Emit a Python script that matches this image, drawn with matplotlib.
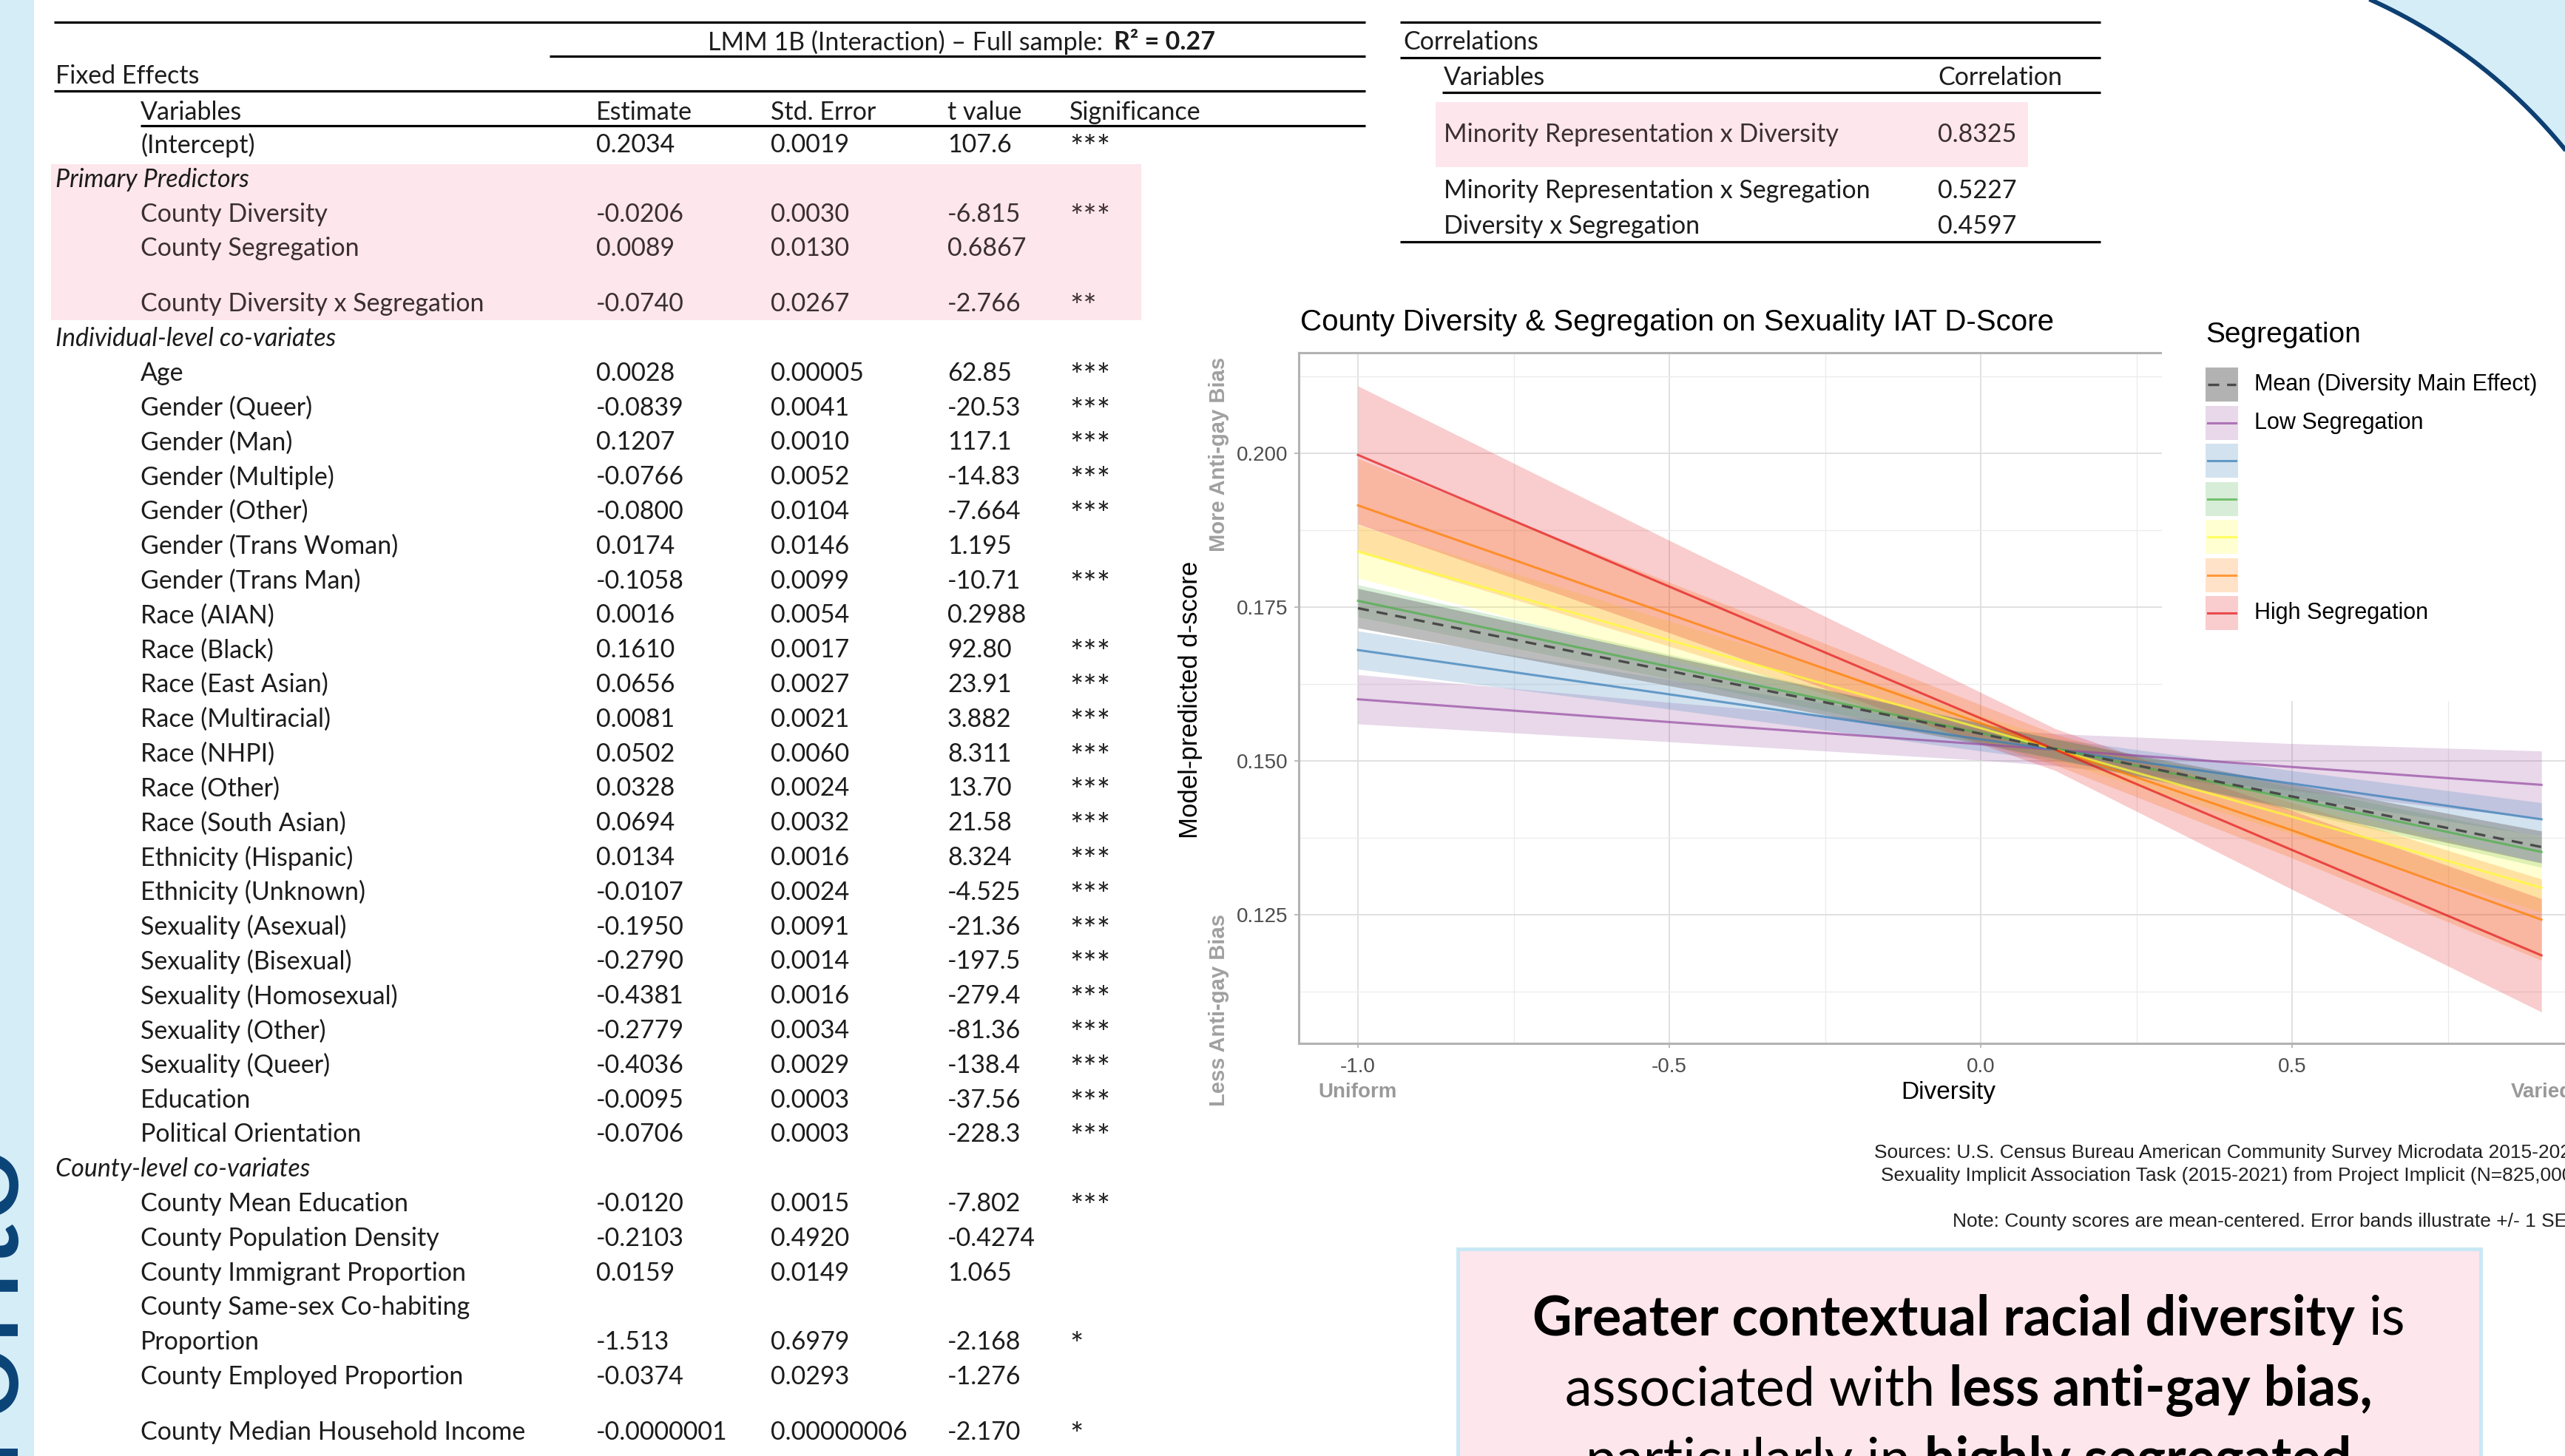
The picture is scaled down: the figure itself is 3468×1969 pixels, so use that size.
import numpy as np
import matplotlib
matplotlib.use("Agg")
import matplotlib.pyplot as plt
from matplotlib.patches import Rectangle, Polygon

W, H = 3468, 1969
plt.rcParams["font.family"] = ["Liberation Sans", "DejaVu Sans"]

# ---- fixed effects table (LMM 1B)
var_names = [
    "(Intercept)",
    "County Diversity", "County Segregation", "County Diversity x Segregation",
    "Age", "Gender (Queer)", "Gender (Man)", "Gender (Multiple)", "Gender (Other)",
    "Gender (Trans Woman)", "Gender (Trans Man)", "Race (AIAN)", "Race (Black)",
    "Race (East Asian)", "Race (Multiracial)", "Race (NHPI)", "Race (Other)",
    "Race (South Asian)", "Ethnicity (Hispanic)", "Ethnicity (Unknown)",
    "Sexuality (Asexual)", "Sexuality (Bisexual)", "Sexuality (Homosexual)",
    "Sexuality (Other)", "Sexuality (Queer)", "Education", "Political Orientation",
    "County Mean Education", "County Population Density", "County Immigrant Proportion",
    "County Same-sex Co-habiting\nProportion", "County Employed Proportion",
    "County Median Household Income",
]
estimates = ["0.2034", "-0.0206", "0.0089", "-0.0740", "0.0028", "-0.0839", "0.1207",
             "-0.0766", "-0.0800", "0.0174", "-0.1058", "0.0016", "0.1610", "0.0656",
             "0.0081", "0.0502", "0.0328", "0.0694", "0.0134", "-0.0107", "-0.1950",
             "-0.2790", "-0.4381", "-0.2779", "-0.4036", "-0.0095", "-0.0706", "-0.0120",
             "-0.2103", "0.0159", "-1.513", "-0.0374", "-0.0000001"]
std_errors = ["0.0019", "0.0030", "0.0130", "0.0267", "0.00005", "0.0041", "0.0010",
              "0.0052", "0.0104", "0.0146", "0.0099", "0.0054", "0.0017", "0.0027",
              "0.0021", "0.0060", "0.0024", "0.0032", "0.0016", "0.0024", "0.0091",
              "0.0014", "0.0016", "0.0034", "0.0029", "0.0003", "0.0003", "0.0015",
              "0.4920", "0.0149", "0.6979", "0.0293", "0.00000006"]
t_values = ["107.6", "-6.815", "0.6867", "-2.766", "62.85", "-20.53", "117.1", "-14.83",
            "-7.664", "1.195", "-10.71", "0.2988", "92.80", "23.91", "3.882", "8.311",
            "13.70", "21.58", "8.324", "-4.525", "-21.36", "-197.5", "-279.4", "-81.36",
            "-138.4", "-37.56", "-228.3", "-7.802", "-0.4274", "1.065", "-2.168",
            "-1.276", "-2.170"]
signif = ["***", "***", "", "**", "***", "***", "***", "***", "***", "", "***", "",
          "***", "***", "***", "***", "***", "***", "***", "***", "***", "***", "***",
          "***", "***", "***", "***", "***", "", "", "*", "", "*"]
sections = ["Primary Predictors", "Individual-level co-variates", "County-level co-variates"]

# ---- correlations table
corr_pairs = ["Minority Representation x Diversity",
              "Minority Representation x Segregation",
              "Diversity x Segregation"]
corr_values = ["0.8325", "0.5227", "0.4597"]

# ---- predicted d-score by diversity, per segregation level (fit +/- 1 SE)
x_grid = [-1.0, -0.5, 0.0, 0.12, 0.5, 0.9]
fit_mean = [0.1748, 0.1646, 0.1544, 0.1519, 0.1442, 0.1360]
se_mean = [0.0032, 0.0024, 0.0017, 0.0016, 0.0020, 0.0026]
fit_seg1 = [0.1600, 0.1563, 0.1527, 0.1518, 0.1490, 0.1461]
se_seg1 = [0.0040, 0.0032, 0.0026, 0.0026, 0.0038, 0.0055]
fit_seg2 = [0.1680, 0.1608, 0.1535, 0.1518, 0.1463, 0.1405]
se_seg2 = [0.0031, 0.0024, 0.0019, 0.0018, 0.0021, 0.0027]
fit_seg3 = [0.1760, 0.1653, 0.1545, 0.1520, 0.1438, 0.1352]
se_seg3 = [0.0026, 0.0020, 0.0016, 0.0015, 0.0019, 0.0025]
fit_seg4 = [0.1840, 0.1696, 0.1553, 0.1518, 0.1409, 0.1294]
se_seg4 = [0.0043, 0.0031, 0.0020, 0.0018, 0.0028, 0.0040]
fit_seg5 = [0.1915, 0.1738, 0.1561, 0.1518, 0.1387, 0.1242]
se_seg5 = [0.0076, 0.0052, 0.0030, 0.0025, 0.0045, 0.0066]
fit_seg6 = [0.1997, 0.1783, 0.1569, 0.1518, 0.1355, 0.1184]
se_seg6 = [0.0112, 0.0075, 0.0042, 0.0034, 0.0064, 0.0092]
seg_colors = ["#984EA3", "#377EB8", "#4DAF4A", "#FFFF33", "#FF7F00", "#E41A1C"]
legend_labels = ["Mean (Diversity Main Effect)", "Low Segregation", "", "", "", "",
                 "High Segregation"]

fig = plt.figure(figsize=(W / 100, H / 100), dpi=100, facecolor="white")

# full-figure layer in pixel coordinates (y down)
bg = fig.add_axes([0, 0, 1, 1])
bg.set_xlim(0, W)
bg.set_ylim(H, 0)
bg.set_axis_off()
bg.set_zorder(0)

ink = "#1c1c1c"
TF = "Lato"

# left strip + corner decoration
bg.add_patch(Rectangle((0, 0), 46, H, color="#d5edf7", lw=0))
bg.text(22, 1548, "Toronto", rotation=90, rotation_mode="anchor", ha="right",
        va="baseline", fontsize=130, color="#0a4478", family=TF)
t = np.radians(np.linspace(-70, -35, 150))
arc = np.column_stack([2909 + 720 * np.cos(t), 656 + 720 * np.sin(t)])
bg.add_patch(Polygon(np.vstack([arc, [[W + 40, -40]]]), closed=True,
                     color="#d5edf7", lw=0))
bg.plot(arc[:, 0], arc[:, 1], color="#0d3f72", lw=4.3, solid_capstyle="butt")

# ---- fixed effects table
bg.add_patch(Rectangle((69, 222), 1543 - 69, 433 - 222, color="#fde6ec", lw=0))
for y, x0, x1 in [(30, 73, 1846), (76, 743, 1846), (123, 73, 1846), (170, 190, 1846)]:
    bg.plot([x0, x1], [y, y], color="black", lw=2.3, solid_capstyle="butt")
tsz = 24.5
bg.text(1500, 57, "LMM 1B (Interaction) \u2013 Full sample: ", ha="right", va="center",
        fontsize=tsz, family=TF, color=ink)
bg.text(1506, 57, "R\u00b2 = 0.27", ha="left", va="center", fontsize=tsz, family=TF,
        fontweight="bold", color=ink)
bg.text(75, 103, "Fixed Effects", va="center", fontsize=tsz, family=TF, color=ink)
col_x = [190, 806, 1042, 1281, 1446]
for x, s in zip(col_x, ["Variables", "Estimate", "Std. Error", "t value", "Significance"]):
    bg.text(x, 152, s, va="center", fontsize=tsz, family=TF, color=ink)

y0, step = 196, 46.8
slots = [0, 2, 3, 4.6] + [6.6 + i for i in range(23)] + [30.6, 31.6, 32.6, 34.6, 35.6, 37.2]
for sec, s in zip(sections, [1, 5.6, 29.6]):
    bg.text(75, y0 + step * s, sec, va="center", fontsize=tsz, family=TF,
            style="italic", color=ink)
for i, name in enumerate(var_names):
    y = y0 + step * slots[i]
    col = "#3a2f33" if 1 <= i <= 3 else ink
    lines = name.split("\n")
    for k, ln in enumerate(lines):
        bg.text(190, y - step * (len(lines) - 1 - k), ln, va="center", fontsize=tsz,
                family=TF, color=col)
    for x, s in zip(col_x[1:4], [estimates[i], std_errors[i], t_values[i]]):
        bg.text(x, y, s, va="center", fontsize=tsz, family=TF, color=col)
    bg.text(col_x[4], y + 5, signif[i], va="center", fontsize=31, family=TF, color=col)

# ---- correlations table
bg.add_patch(Rectangle((1941, 138), 2742 - 1941, 226 - 138, color="#fde6ec", lw=0))
for y, x0 in [(30, 1893), (78, 1893), (125, 1950), (327, 1893)]:
    bg.plot([x0, 2840], [y, y], color="black", lw=2.3, solid_capstyle="butt")
bg.text(1897, 57, "Correlations", va="center", fontsize=tsz, family=TF, color=ink)
bg.text(1952, 105, "Variables", va="center", fontsize=tsz, family=TF, color=ink)
bg.text(2620, 105, "Correlation", va="center", fontsize=tsz, family=TF, color=ink)
for y, p, v, col in zip([182, 258, 306], corr_pairs, corr_values, ["#3a2f33", ink, ink]):
    bg.text(1952, y, p, va="center", fontsize=tsz, family=TF, color=col)
    bg.text(2620, y, v, va="center", fontsize=tsz, family=TF, color=col)

# ---- chart
ax = fig.add_axes([1756 / W, 1 - 1411 / H, (3512 - 1756) / W, (1411 - 477) / H])
ax.set_zorder(1)
ax.set_xlim(-1.095, 0.99)
ax.set_ylim(0.1041, 0.2163)

fits = [fit_seg1, fit_seg2, fit_seg3, fit_seg4, fit_seg5, fit_seg6]
ses = [se_seg1, se_seg2, se_seg3, se_seg4, se_seg5, se_seg6]
for f, s, c in zip(fits, ses, seg_colors):
    f, s = np.array(f), np.array(s)
    ax.fill_between(x_grid, f - s, f + s, color=c, alpha=0.22, lw=0)
fm, sm = np.array(fit_mean), np.array(se_mean)
ax.fill_between(x_grid, fm - sm, fm + sm, color="#7f7f7f", alpha=0.52, lw=0)
for f, c in zip(fits, seg_colors):
    ax.plot(x_grid, f, color=c, alpha=0.72, lw=2.2)
ax.plot(x_grid, fit_mean, color="#4a4a4a", lw=2.4, dashes=(4.5, 3.2))

ax.set_xticks([-1.0, -0.5, 0.0, 0.5])
ax.set_xticklabels(["-1.0", "-0.5", "0.0", "0.5"])
ax.set_xticks([-0.75, -0.25, 0.25, 0.75], minor=True)
ax.set_yticks([0.125, 0.150, 0.175, 0.200])
ax.set_yticklabels(["0.125", "0.150", "0.175", "0.200"])
ax.set_yticks([0.1125, 0.1375, 0.1625, 0.1875, 0.2125], minor=True)
ax.set_axisbelow(True)
ax.grid(which="major", color="#dedede", lw=1.3)
ax.grid(which="minor", color="#ececec", lw=1.0)
ax.tick_params(which="major", length=4.5, width=1.2, color="#b0b0b0",
               labelcolor="#4d4d4d", labelsize=20)
ax.tick_params(axis="y", pad=6)
ax.tick_params(axis="x", pad=9)
ax.tick_params(which="minor", length=0)
for sp in ax.spines.values():
    sp.set_color("#b3b3b3")
    sp.set_linewidth(2.2)

xt = ax.get_xaxis_transform()
ax.text(x_grid[0], -0.0707, "Uniform", transform=xt, ha="center", va="center",
        fontsize=20, fontweight="bold", color="#999999")
ax.text(x_grid[-1], -0.0707, "Varied", transform=xt, ha="center", va="center",
        fontsize=20, fontweight="bold", color="#999999")
ax.text(0.5, -0.0707, "Diversity", transform=ax.transAxes, ha="center", va="center",
        fontsize=24, color="black")

bg.text(1758, 436, "County Diversity & Segregation on Sexuality IAT D-Score",
        ha="left", va="center", fontsize=29, color="black")
bg.text(1610, 946, "Model-predicted d-score", rotation=90, ha="center", va="center",
        fontsize=25, color="black")
bg.text(1648, 614, "More Anti-gay Bias", rotation=90, ha="center", va="center",
        fontsize=21, fontweight="bold", color="#a0a0a0")
bg.text(1648, 1366, "Less Anti-gay Bias", rotation=90, ha="center", va="center",
        fontsize=21, fontweight="bold", color="#a0a0a0")

bg.text(2534, 1559, "Sources: U.S. Census Bureau American Community Survey Microdata 2015-2021",
        ha="left", va="center", fontsize=19, color="#222222")
bg.text(2543, 1590, "Sexuality Implicit Association Task (2015-2021) from Project Implicit (N=825,000)",
        ha="left", va="center", fontsize=19, color="#222222")
bg.text(2640, 1652, "Note: County scores are mean-centered. Error bands illustrate +/- 1 SE.",
        ha="left", va="center", fontsize=19, color="#222222")

# ---- legend (white box over the panel)
leg = fig.add_axes([2923 / W, 1 - 948 / H, (W - 2923) / W, (948 - 420) / H])
leg.set_xlim(2923, W)
leg.set_ylim(948, 420)
leg.set_axis_off()
leg.set_zorder(3)
leg.add_patch(Rectangle((2923, 420), W - 2923, 528, color="white", lw=0, zorder=0))
leg.text(2982, 453, "Segregation", va="center", fontsize=28, color="black")
key_fill = ["#7f7f7f"] + seg_colors
key_alpha = [0.6] + [0.22] * 6
for i, (lab, c, a) in enumerate(zip(legend_labels, key_fill, key_alpha)):
    top = 497 + i * 51.5
    leg.add_patch(Rectangle((2982, top), 44, 46, color=c, alpha=a, lw=0))
    if i == 0:
        leg.plot([2985, 3023], [top + 23] * 2, color="#4a4a4a", lw=2.4, dashes=(4.5, 3.2))
    else:
        leg.plot([2985, 3023], [top + 23] * 2, color=c, alpha=0.72, lw=2.2)
    leg.text(3048, top + 23, lab, va="center", fontsize=22, color="black")

# ---- take-home box
bg.add_patch(Rectangle((1971, 1689), 3354 - 1971, H, facecolor="#fde6ec",
                       edgecolor="#c8e8f5", lw=3.5))
renderer = fig.canvas.get_renderer()
csz = 53


def text_width(s, weight):
    a = bg.text(0, -500, s, fontsize=csz, fontweight=weight, family=TF)
    w = a.get_window_extent(renderer).width
    a.remove()
    return w


space = text_width("n n", "normal") - text_width("nn", "normal")


def mixed_line(parts, xc, y):
    arts = [bg.text(0, y, s, fontsize=csz, fontweight=w, family=TF, va="center",
                    ha="left", color="black") for s, w in parts]
    widths = [a.get_window_extent(renderer).width for a in arts]
    x = xc - (sum(widths) + space * (len(arts) - 1)) / 2
    for a, wd in zip(arts, widths):
        a.set_x(x)
        x += wd + space


mixed_line([("Greater contextual racial diversity", "bold"), ("is", "normal")], 2662, 1784)
mixed_line([("associated with", "normal"), ("less anti-gay bias,", "bold")], 2662, 1880)
mixed_line([("particularly in", "normal"), ("highly segregated", "bold")], 2662, 1976)

fig.savefig("out.png", dpi=100, facecolor="white")
